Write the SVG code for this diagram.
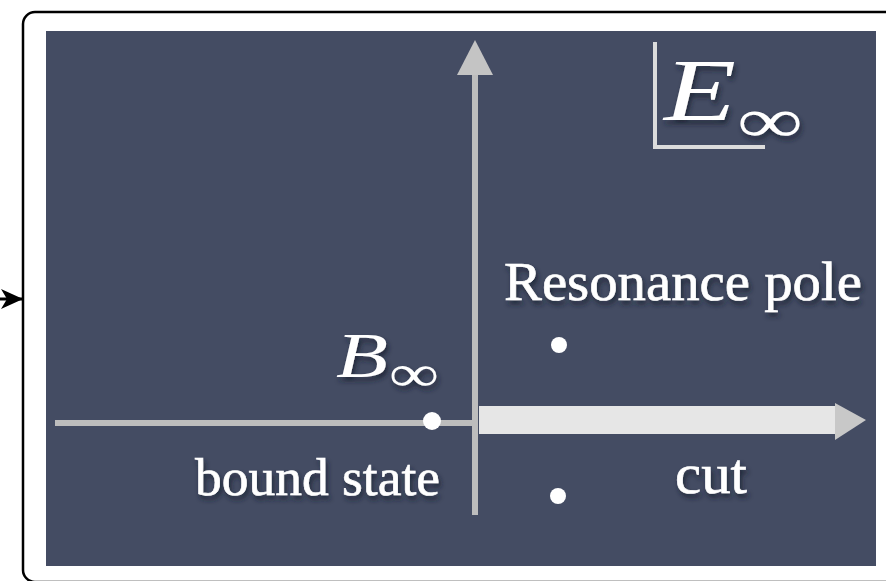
<svg xmlns="http://www.w3.org/2000/svg" width="886" height="581" viewBox="0 0 886 581">
  <defs>
    <filter id="sh" x="-10%" y="-20%" width="130%" height="160%">
      <feDropShadow dx="2" dy="4" stdDeviation="2.5" flood-color="#1c2030" flood-opacity="0.8"/>
    </filter>
    <marker id="blk" viewBox="0 0 22 22" refX="21" refY="11" markerWidth="22" markerHeight="22" markerUnits="userSpaceOnUse" orient="auto">
      <path d="M0,1 L22,11 L0,21 L6,11 Z" fill="#000"/>
    </marker>
    <style>
      .lbl { font-family: "Liberation Serif", "Times New Roman", serif; fill: #ffffff; stroke: #ffffff; stroke-width: 0.6; }
      .mi { font-family: "Liberation Serif", "Times New Roman", serif; font-style: italic; fill: #ffffff; }
      .inf { font-family: "Liberation Serif", "Times New Roman", serif; fill: #ffffff; }
      .axis { stroke: #bdbdbd; stroke-width: 6; fill: none; }
      .dot { fill: #ffffff; }
    </style>
  </defs>

  <rect x="0" y="0" width="886" height="581" fill="#ffffff"/>

  <g id="frame">
    <rect x="23" y="12" width="880" height="570" rx="12" ry="12" fill="#ffffff" stroke="#000" stroke-width="2.5"/>
    <rect x="46" y="31" width="830" height="535" fill="#444c63"/>
  </g>

  <g id="connectors">
    <line x1="0" y1="299" x2="22" y2="299" stroke="#000" stroke-width="3" marker-end="url(#blk)"/>
    <!-- vertical axis -->
    <line class="axis" x1="475" y1="72" x2="475" y2="515"/>
    <polygon points="475,40 457,75 493,75" fill="#c4c4c4"/>
    <!-- thin real axis -->
    <line class="axis" x1="55" y1="423" x2="473" y2="423"/>
    <!-- cut -->
    <rect x="479" y="406" width="357" height="28" fill="#e6e6e6"/>
    <polygon points="835,403 866,420 835,440" fill="#c8c8c8"/>
    <!-- E-infinity corner -->
    <polyline points="655,42 655,147 765,147" fill="none" stroke="#dcdcdc" stroke-width="4"/>
  </g>

  <g id="E_inf" filter="url(#sh)">
    <text class="mi" x="664" y="120" font-size="88" textLength="72" lengthAdjust="spacingAndGlyphs">E</text>
    <text class="inf" x="737" y="142" font-size="64" textLength="66" lengthAdjust="spacingAndGlyphs">∞</text>
  </g>

  <g id="B_inf" filter="url(#sh)">
    <text class="mi" x="336" y="377" font-size="64" textLength="52" lengthAdjust="spacingAndGlyphs">B</text>
    <text class="inf" x="389" y="391" font-size="52" textLength="50" lengthAdjust="spacingAndGlyphs">∞</text>
  </g>

  <g id="resonance_pole">
    <text class="lbl" x="504" y="300" font-size="55" textLength="358" lengthAdjust="spacingAndGlyphs" filter="url(#sh)">Resonance pole</text>
    <circle class="dot" cx="559" cy="345" r="8"/>
  </g>

  <g id="bound_state">
    <circle class="dot" cx="432" cy="421" r="9"/>
    <text class="lbl" x="195" y="495" font-size="53" textLength="245" lengthAdjust="spacingAndGlyphs" filter="url(#sh)">bound state</text>
  </g>

  <g id="lower_pole">
    <circle class="dot" cx="558" cy="496" r="8"/>
  </g>

  <g id="cut_label">
    <text class="lbl" x="675" y="493" font-size="58" textLength="72" lengthAdjust="spacingAndGlyphs" filter="url(#sh)">cut</text>
  </g>
</svg>
